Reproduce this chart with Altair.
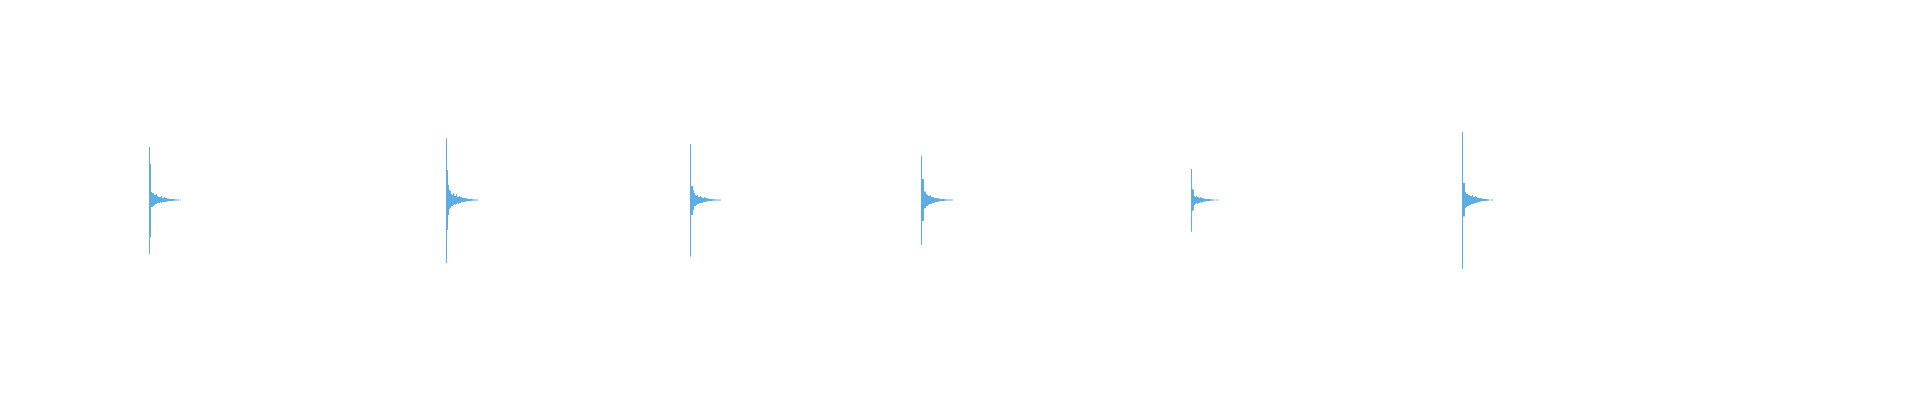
import altair as alt
import pandas as pd

# Onset time (s) of each drum hit
onsets = [0.705, 2.19, 3.41, 4.565, 5.915, 7.27]
# Column duration (s) of the min/max envelope
step = 0.005
total_duration = 9.52

# Upper (positive) envelope per column, percent of full scale
upper = [
    [27.6, 18.8, 4.2, 3.6, 3.6, 2.6, 2.6, 3.1, 2.1, 1.6, 1.6, 1.6, 2.1, 1.0, 1.0, 1.6, 1.0, 1.0, 0.8, 0.8, 0.5, 0.5, 0.5, 0.5, 0.5, 0.4, 0.4, 0.3, 0.3, 0.3, 0, 0.3],
    [32.2, 15.6, 7.8, 5.2, 4.7, 3.1, 2.6, 3.6, 2.1, 2.1, 3.1, 1.6, 1.6, 2.1, 1.6, 1.6, 1.0, 1.0, 1.0, 1.0, 0.8, 0.8, 0.5, 0.5, 0.5, 0.5, 0.4, 0.4, 0.3, 0.3, 0.3, 0.3],
    [29.1, 7.3, 7.3, 5.2, 3.6, 2.6, 2.1, 2.6, 1.6, 1.6, 2.1, 1.6, 1.0, 1.0, 1.6, 1.0, 1.0, 0.8, 0.8, 0.5, 0.5, 0.5, 0.5, 0.4, 0.4, 0.3, 0.3, 0.3, 0.3, 0.3, 0.3],
    [23.1, 10.9, 10.9, 4.4, 4.4, 3.1, 2.6, 2.1, 2.1, 2.6, 1.6, 1.6, 1.6, 1.0, 1.0, 1.0, 1.0, 0.8, 0.8, 0.5, 0.5, 0.5, 0.5, 0.4, 0.4, 0.3, 0.3, 0.3, 0.3, 0.3, 0.3, 0.3],
    [16.1, 5.7, 5.2, 2.1, 1.6, 2.1, 1.6, 1.6, 1.0, 1.6, 1.0, 1.0, 0.8, 0.8, 0.5, 0.5, 0.5, 0.5, 0.5, 0.4, 0.4, 0.3, 0.3, 0.3, 0, 0.3, 0, 0.3],
    [35.4, 8.8, 8.8, 4.2, 3.1, 3.1, 2.6, 2.6, 2.1, 2.1, 2.6, 1.6, 1.6, 2.1, 1.6, 1.0, 1.0, 1.0, 1.0, 0.8, 0.8, 0.5, 0.5, 0.5, 0.5, 0.4, 0.3, 0.3, 0, 0.3, 0.3],
]
# Lower (negative) envelope magnitude per column, percent of full scale
lower = [
    [28.1, 19.3, 3.6, 3.6, 3.1, 2.6, 2.1, 2.1, 1.6, 1.6, 1.6, 1.0, 1.6, 1.0, 1.0, 1.0, 1.0, 0.8, 0.8, 0.5, 0.5, 0.5, 0.5, 0.5, 0.4, 0.4, 0.3, 0.3, 0.3, 0.3, 0, 0.3],
    [32.8, 15.6, 7.8, 4.7, 4.2, 3.1, 3.1, 2.6, 2.1, 2.6, 2.1, 1.6, 2.1, 1.6, 1.6, 1.0, 1.0, 1.0, 1.0, 0.8, 0.8, 0.5, 0.5, 0.5, 0.5, 0.4, 0.4, 0.3, 0.3, 0.3, 0.3, 0.3],
    [29.6, 7.8, 7.8, 5.2, 3.1, 3.1, 2.6, 2.1, 2.1, 1.6, 1.6, 1.6, 1.6, 1.0, 1.0, 1.0, 0.8, 0.8, 0.5, 0.5, 0.5, 0.5, 0.4, 0.4, 0.3, 0.3, 0.3, 0.3, 0.3, 0.3, 0.3],
    [23.4, 10.9, 10.9, 4.4, 4.2, 3.1, 3.1, 2.6, 2.1, 2.1, 2.1, 1.6, 1.6, 1.6, 1.0, 1.0, 1.0, 0.8, 0.8, 0.5, 0.5, 0.5, 0.5, 0.4, 0.4, 0.3, 0.3, 0.3, 0.3, 0.3, 0.3, 0.3],
    [16.6, 5.7, 5.2, 2.6, 2.1, 1.6, 2.1, 1.6, 1.6, 1.0, 1.6, 1.0, 1.0, 0.8, 0.8, 0.5, 0.5, 0.5, 0.5, 0.4, 0.4, 0.3, 0.3, 0.3, 0, 0.3, 0, 0.3],
    [35.9, 8.6, 8.6, 4.2, 3.6, 3.1, 3.1, 2.6, 2.6, 2.1, 2.1, 2.1, 1.6, 1.6, 1.6, 1.0, 1.0, 1.0, 0.8, 0.8, 0.5, 0.5, 0.5, 0.5, 0.4, 0.4, 0.3, 0.3, 0, 0.3, 0.3],
]

rows = []
for hit, (t0, up, dn) in enumerate(zip(onsets, upper, lower)):
    for k, (u, d) in enumerate(zip(up, dn)):
        if u == 0 and d == 0:
            continue
        rows.append({
            "hit": hit + 1,
            "t": t0 + k * step,
            "t2": t0 + (k + 1) * step,
            "max": u,
            "min": -d,
        })
df = pd.DataFrame(rows)

chart = alt.Chart(df).mark_rect(color="#5DADE2").encode(
    x=alt.X("t:Q", scale=alt.Scale(domain=[0, total_duration], nice=False, zero=False), axis=None),
    x2="t2:Q",
    y=alt.Y("max:Q", scale=alt.Scale(domain=[-100, 100], nice=False), axis=None),
    y2="min:Q",
).properties(
    width=1904,
    height=384,
    padding=0,
    background="white",
).configure_view(stroke=None)

chart.save("out.html", embed_options={"renderer": "svg", "actions": False})
